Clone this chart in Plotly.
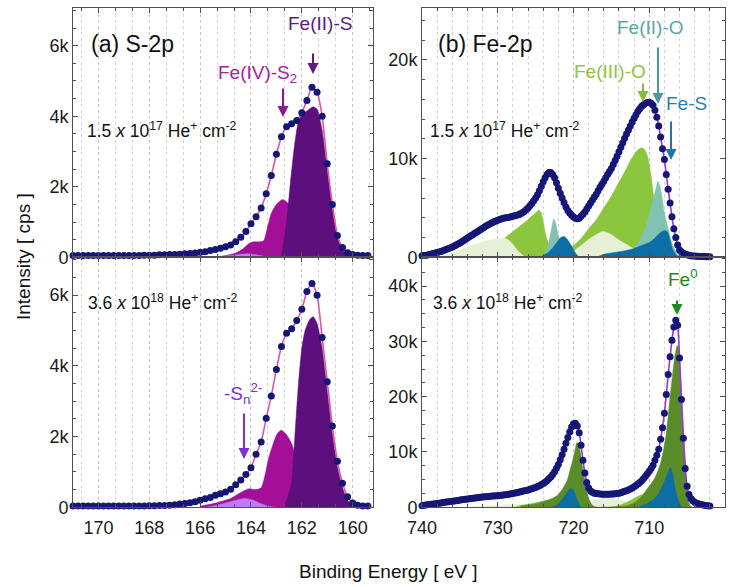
import plotly.graph_objects as go

W, H = 740, 587
FONT = "Liberation Sans, Arial, sans-serif"

# ---------------- S-2p : data ----------------
s_energy = [171.0, 170.8, 170.6, 170.4, 170.2, 170.0, 169.8, 169.6, 169.4, 169.2,
            169.0, 168.8, 168.6, 168.4, 168.2, 168.0, 167.8, 167.6, 167.4, 167.2,
            167.0, 166.8, 166.6, 166.4, 166.2, 166.0, 165.8, 165.6, 165.4, 165.2,
            165.0, 164.8, 164.6, 164.4, 164.2, 164.0, 163.8, 163.6, 163.4, 163.2,
            163.0, 162.8, 162.6, 162.4, 162.2, 162.0, 161.8, 161.6, 161.4, 161.2,
            161.0, 160.8, 160.6, 160.4, 160.2, 160.0, 159.8, 159.6, 159.4]
s_low = [0.05, 0.05, 0.05, 0.05, 0.05, 0.05, 0.05, 0.05, 0.05, 0.05,
         0.05, 0.05, 0.05, 0.05, 0.06, 0.06, 0.06, 0.07, 0.07, 0.08,
         0.08, 0.09, 0.10, 0.11, 0.12, 0.14, 0.16, 0.19, 0.22, 0.26,
         0.30, 0.35, 0.44, 0.57, 0.73, 0.95, 1.15, 1.40, 1.80, 2.32,
         2.92, 3.42, 3.70, 3.79, 3.88, 4.10, 4.45, 4.82, 4.68, 4.00,
         2.65, 1.50, 0.62, 0.28, 0.13, 0.08, 0.06, 0.05, 0.05]
s_high = [0.04, 0.04, 0.04, 0.04, 0.04, 0.04, 0.04, 0.04, 0.04, 0.04,
          0.04, 0.04, 0.04, 0.04, 0.04, 0.045, 0.045, 0.05, 0.05, 0.06,
          0.07, 0.09, 0.11, 0.13, 0.16, 0.20, 0.24, 0.28, 0.34, 0.38,
          0.43, 0.51, 0.64, 0.77, 0.93, 1.12, 1.50, 1.85, 2.52, 3.15,
          3.90, 4.55, 4.92, 5.05, 5.28, 5.60, 6.10, 6.33, 6.00, 4.80,
          3.55, 2.30, 1.30, 0.68, 0.30, 0.12, 0.06, 0.04, 0.04]

# S-2p components, low dose (energy, intensity in k)
s_low_fe4_e = [165.4, 165.0, 164.6, 164.3, 164.1, 163.9, 163.7, 163.5, 163.35, 163.2,
               163.0, 162.75, 162.5, 162.3, 162.1, 161.9, 161.7, 161.5, 161.2]
s_low_fe4_i = [0.0, 0.05, 0.12, 0.25, 0.38, 0.44, 0.44, 0.47, 0.85, 1.25,
               1.50, 1.64, 1.50, 1.20, 0.80, 0.48, 0.24, 0.10, 0.0]
s_low_fe2_e = [162.8, 162.6, 162.45, 162.3, 162.15, 162.0, 161.8, 161.55, 161.4, 161.2,
               161.0, 160.8, 160.6, 160.4, 160.2, 160.0]
s_low_fe2_i = [0.0, 1.0, 2.1, 3.1, 3.8, 4.05, 4.15, 4.27, 4.2, 3.6,
               2.5, 1.45, 0.6, 0.22, 0.06, 0.0]
s_low_sn_e = [165.6, 165.2, 164.8, 164.4, 164.1, 163.8, 163.5, 163.2]
s_low_sn_i = [0.0, 0.02, 0.05, 0.09, 0.10, 0.07, 0.03, 0.0]

# S-2p components, high dose
s_high_fe4_e = [166.0, 165.4, 164.8, 164.4, 164.1, 163.8, 163.6, 163.45, 163.3, 163.1,
                162.95, 162.8, 162.6, 162.4, 162.2, 162.0, 161.8, 161.6, 161.4, 161.2, 161.0]
s_high_fe4_i = [0.03, 0.12, 0.25, 0.42, 0.52, 0.50, 0.55, 0.90, 1.40, 1.85,
                2.10, 2.18, 2.05, 1.80, 1.35, 0.90, 0.55, 0.30, 0.12, 0.03, 0.0]
s_high_fe2_e = [162.7, 162.55, 162.4, 162.3, 162.22, 162.13, 162.0, 161.87, 161.7, 161.55,
                161.4, 161.2, 161.0, 160.8, 160.6, 160.4, 160.2, 160.0, 159.8]
s_high_fe2_i = [0.0, 0.3, 0.7, 1.7, 2.6, 3.5, 4.5, 5.0, 5.3, 5.39,
                5.2, 4.5, 3.3, 2.1, 1.15, 0.55, 0.2, 0.05, 0.0]
s_high_sn_e = [165.8, 165.4, 165.0, 164.6, 164.25, 163.9, 163.6, 163.3, 163.0]
s_high_sn_i = [0.0, 0.05, 0.12, 0.20, 0.25, 0.20, 0.10, 0.03, 0.0]

# ---------------- Fe-2p : data (energy eV, intensity k) ----------------
fe_low_pts = [
    (740.00, 0.15), (739.75, 0.17), (739.50, 0.20), (739.25, 0.24), (739.00, 0.28),
    (738.75, 0.33), (738.50, 0.38), (738.25, 0.43), (738.00, 0.48), (737.75, 0.54),
    (737.50, 0.60), (737.25, 0.67), (737.00, 0.75), (736.75, 0.82), (736.50, 0.90),
    (736.25, 0.97), (736.00, 1.05), (735.75, 1.15), (735.50, 1.25), (735.25, 1.35),
    (735.00, 1.45), (734.75, 1.57), (734.50, 1.70), (734.25, 1.82), (734.00, 1.95),
    (733.75, 2.07), (733.50, 2.20), (733.25, 2.32), (733.00, 2.45), (732.75, 2.57),
    (732.50, 2.70), (732.25, 2.82), (732.00, 2.95), (731.75, 3.07), (731.50, 3.20),
    (731.25, 3.30), (731.00, 3.40), (730.75, 3.50), (730.50, 3.60), (730.25, 3.68),
    (730.00, 3.75), (729.75, 3.83), (729.50, 3.90), (729.25, 3.95), (729.00, 4.00),
    (728.75, 4.02), (728.50, 4.05), (728.25, 4.10), (728.00, 4.15), (727.75, 4.20),
    (727.50, 4.25), (727.25, 4.32), (727.00, 4.40), (726.75, 4.52), (726.50, 4.65),
    (726.25, 4.82), (726.00, 5.00), (725.75, 5.22), (725.50, 5.45), (725.25, 5.72),
    (725.00, 6.00), (724.75, 6.35), (724.50, 6.75), (724.25, 7.20), (724.00, 7.65),
    (723.75, 8.05), (723.50, 8.40), (723.25, 8.58), (723.00, 8.60), (722.75, 8.40),
    (722.50, 8.05), (722.25, 7.55), (722.00, 7.00), (721.75, 6.50), (721.50, 6.00),
    (721.25, 5.55), (721.00, 5.10), (720.75, 4.75), (720.50, 4.50), (720.25, 4.25),
    (720.00, 4.08), (719.75, 3.95), (719.50, 3.90), (719.25, 3.95), (719.00, 4.15),
    (718.75, 4.35), (718.50, 4.60), (718.25, 4.90), (718.00, 5.20), (717.75, 5.50),
    (717.50, 5.80), (717.25, 6.10), (717.00, 6.40), (716.75, 6.75), (716.50, 7.10),
    (716.25, 7.40), (716.00, 7.70), (715.75, 8.05), (715.50, 8.40), (715.25, 8.70),
    (715.00, 9.00), (714.75, 9.40), (714.50, 9.80), (714.25, 10.25), (714.00, 10.70),
    (713.75, 11.15), (713.50, 11.60), (713.25, 12.05), (713.00, 12.50), (712.75, 12.90),
    (712.50, 13.30), (712.25, 13.70), (712.00, 14.10), (711.75, 14.45), (711.50, 14.80),
    (711.25, 15.05), (711.00, 15.30), (710.75, 15.45), (710.50, 15.60), (710.25, 15.68),
    (710.00, 15.70), (709.75, 15.62), (709.50, 15.40), (709.25, 14.90), (709.00, 14.20),
    (708.75, 13.30), (708.50, 12.20), (708.25, 11.00), (708.00, 9.90), (707.75, 8.40),
    (707.50, 6.90), (707.25, 5.50), (707.00, 4.10), (706.75, 2.90), (706.50, 2.00),
    (706.25, 1.25), (706.00, 0.75), (705.75, 0.55), (705.50, 0.42), (705.25, 0.32),
    (705.00, 0.25), (704.75, 0.20), (704.50, 0.16), (704.25, 0.14), (704.00, 0.12),
    (703.75, 0.11), (703.50, 0.10), (703.25, 0.09), (703.00, 0.08), (702.75, 0.07),
    (702.50, 0.06), (702.25, 0.06), (702.00, 0.05),
]
fe_high_pts = [
    (740.00, 0.30), (739.75, 0.35), (739.50, 0.40), (739.25, 0.45), (739.00, 0.50),
    (738.75, 0.55), (738.50, 0.60), (738.25, 0.65), (738.00, 0.70), (737.75, 0.75),
    (737.50, 0.80), (737.25, 0.85), (737.00, 0.90), (736.75, 0.95), (736.50, 1.00),
    (736.25, 1.05), (736.00, 1.10), (735.75, 1.15), (735.50, 1.20), (735.25, 1.25),
    (735.00, 1.30), (734.75, 1.35), (734.50, 1.40), (734.25, 1.45), (734.00, 1.50),
    (733.75, 1.55), (733.50, 1.60), (733.25, 1.65), (733.00, 1.70), (732.75, 1.74),
    (732.50, 1.78), (732.25, 1.82), (732.00, 1.85), (731.75, 1.89), (731.50, 1.93),
    (731.25, 1.96), (731.00, 2.00), (730.75, 2.03), (730.50, 2.05), (730.25, 2.08),
    (730.00, 2.10), (729.75, 2.14), (729.50, 2.18), (729.25, 2.21), (729.00, 2.25),
    (728.75, 2.31), (728.50, 2.37), (728.25, 2.44), (728.00, 2.50), (727.75, 2.57),
    (727.50, 2.65), (727.25, 2.72), (727.00, 2.80), (726.75, 2.88), (726.50, 2.97),
    (726.25, 3.06), (726.00, 3.15), (725.75, 3.25), (725.50, 3.35), (725.25, 3.47),
    (725.00, 3.60), (724.75, 3.75), (724.50, 3.90), (724.25, 4.10), (724.00, 4.30),
    (723.75, 4.55), (723.50, 4.80), (723.25, 5.15), (723.00, 5.50), (722.75, 5.95),
    (722.50, 6.45), (722.25, 7.05), (722.00, 7.75), (721.75, 8.60), (721.50, 9.50),
    (721.25, 10.50), (721.00, 11.60), (720.75, 12.60), (720.50, 13.60), (720.25, 14.50),
    (720.00, 15.10), (719.75, 15.20), (719.50, 14.70), (719.25, 13.50), (719.00, 11.20),
    (718.75, 8.50), (718.50, 6.20), (718.25, 4.50), (718.00, 3.50), (717.75, 2.95),
    (717.50, 2.70), (717.25, 2.55), (717.00, 2.48), (716.75, 2.43), (716.50, 2.40),
    (716.25, 2.37), (716.00, 2.35), (715.75, 2.35), (715.50, 2.35), (715.25, 2.37),
    (715.00, 2.40), (714.75, 2.42), (714.50, 2.45), (714.25, 2.50), (714.00, 2.55),
    (713.75, 2.65), (713.50, 2.75), (713.25, 2.88), (713.00, 3.00), (712.75, 3.15),
    (712.50, 3.30), (712.25, 3.50), (712.00, 3.70), (711.75, 3.95), (711.50, 4.20),
    (711.25, 4.50), (711.00, 4.80), (710.75, 5.20), (710.50, 5.60), (710.25, 6.05),
    (710.00, 6.50), (709.75, 7.00), (709.50, 7.60), (709.25, 8.50), (709.00, 9.40),
    (708.75, 10.50), (708.50, 12.30), (708.25, 14.40), (708.00, 17.00), (707.75, 20.40),
    (707.50, 24.00), (707.25, 27.20), (707.00, 30.20), (706.75, 32.60), (706.50, 33.80),
    (706.25, 32.90), (706.00, 27.00), (705.75, 19.50), (705.50, 12.50), (705.25, 7.00),
    (705.00, 3.80), (704.75, 2.30), (704.50, 1.60), (704.25, 1.20), (704.00, 0.90),
    (703.75, 0.75), (703.50, 0.62), (703.25, 0.52), (703.00, 0.45), (702.75, 0.38),
    (702.50, 0.33), (702.25, 0.28), (702.00, 0.25),
]

# Fe-2p components, low dose
fe_low_sat_e = [738.0, 737.0, 736.0, 735.0, 734.0, 733.0, 732.0, 731.0, 730.0, 729.2,
                728.5, 728.0, 727.5, 727.0, 726.5, 726.0, 721.0, 720.0, 719.0, 718.0,
                717.2, 716.4, 715.9, 715.0, 714.1, 712.8, 711.5, 710.0, 709.0]
fe_low_sat_i = [0.0, 0.2, 0.45, 0.75, 1.05, 1.3, 1.55, 1.75, 1.9, 1.95,
                1.7, 1.3, 0.8, 0.4, 0.1, 0.0, 0.0, 0.6, 1.2, 1.8,
                2.2, 2.55, 2.6, 2.3, 1.8, 1.2, 0.6, 0.15, 0.0]
fe_low_fe3_e = [731.0, 730.0, 729.0, 728.0, 727.0, 726.0, 725.5, 725.0, 724.6, 724.3,
                724.0, 723.7, 723.4, 723.0, 722.0, 721.0, 720.0, 719.0, 718.0, 717.0,
                716.0, 715.0, 714.0, 713.0, 712.5, 712.0, 711.5, 711.0, 710.6, 710.2,
                709.8, 709.4, 709.0, 708.6, 708.2, 707.8, 707.4]
fe_low_fe3_i = [0.5, 1.2, 2.0, 2.6, 3.2, 3.8, 4.2, 4.5, 4.8, 4.6,
                3.6, 2.4, 1.6, 1.1, 0.9, 1.0, 1.2, 1.9, 2.9, 3.8,
                5.0, 6.2, 7.6, 9.0, 9.8, 10.4, 10.9, 11.1, 10.9, 10.2,
                8.5, 6.0, 3.8, 2.2, 1.0, 0.4, 0.0]
fe_low_fe2o_e = [724.0, 723.5, 723.0, 722.6, 722.3, 722.0, 721.5, 721.0, 720.5, 720.0,
                 713.0, 712.0, 711.0, 710.2, 709.5, 709.1, 708.85, 708.6, 708.4, 708.0,
                 707.5, 706.9, 706.2, 705.8]
fe_low_fe2o_i = [0.0, 0.8, 2.5, 3.9, 3.3, 2.2, 1.2, 0.6, 0.2, 0.0,
                 0.0, 0.9, 2.1, 3.8, 5.8, 7.0, 7.7, 7.2, 6.5, 4.5,
                 2.9, 1.2, 0.3, 0.0]
fe_low_fes_e = [724.5, 723.5, 722.8, 722.2, 721.7, 721.2, 720.8, 720.3, 719.8, 719.2,
                717.0, 716.0, 714.5, 713.0, 712.0, 711.0, 710.0, 709.3, 708.8, 708.4,
                707.9, 707.6, 707.3, 706.9, 706.4, 706.0]
fe_low_fes_i = [0.0, 0.4, 0.9, 1.5, 2.0, 2.1, 1.8, 1.2, 0.5, 0.0,
                0.0, 0.3, 0.5, 0.7, 0.9, 1.2, 1.5, 1.9, 2.3, 2.6,
                2.7, 2.6, 1.9, 0.8, 0.2, 0.0]

# Fe-2p components, high dose
fe_high_sat_e = [734.0, 732.0, 730.0, 728.5, 727.0, 725.0, 723.0, 722.0, 720.0, 718.0,
                 716.0, 715.0, 714.0, 712.5, 711.0, 710.0]
fe_high_sat_i = [0.0, 0.2, 0.4, 0.5, 0.4, 0.2, 0.0, 0.0, 0.5, 1.1,
                 1.6, 1.6, 1.3, 0.7, 0.2, 0.0]
fe_high_fe3_e = [728.0, 727.0, 725.5, 724.0, 723.0, 722.0, 721.0, 720.0, 719.0, 718.0,
                 715.0, 714.0, 713.0, 712.0, 711.2, 710.5, 709.8, 709.0, 708.0, 707.0, 706.0]
fe_high_fe3_i = [0.0, 0.3, 0.7, 1.1, 1.3, 1.2, 0.8, 0.4, 0.1, 0.0,
                 0.0, 0.3, 0.9, 1.6, 2.2, 2.3, 2.1, 1.6, 0.9, 0.3, 0.0]
fe_high_fe0_e = [727.0, 725.0, 723.9, 723.0, 722.1, 721.5, 720.8, 720.4, 720.1, 719.8,
                 719.55, 719.3, 719.1, 718.8, 718.6, 718.4, 718.2, 717.9, 717.6, 717.2,
                 716.5, 713.0, 712.0, 711.5, 711.0, 710.4, 709.8, 709.3, 708.8, 708.5,
                 708.1, 707.8, 707.5, 707.3, 707.1, 706.9, 706.6, 706.3, 706.1, 705.9,
                 705.7, 705.5, 705.3, 705.1, 704.9, 704.6, 704.2]
fe_high_fe0_i = [0.3, 0.6, 1.1, 1.5, 2.2, 3.2, 5.0, 7.0, 8.5, 10.3,
                 11.7, 11.5, 10.0, 7.3, 5.6, 4.0, 2.6, 1.3, 0.5, 0.1,
                 0.0, 0.3, 0.8, 1.3, 2.0, 3.1, 4.2, 5.2, 6.8, 8.0,
                 10.5, 12.9, 16.5, 19.4, 21.8, 24.2, 27.5, 29.3, 28.5, 24.5,
                 19.5, 14.5, 10.0, 5.0, 1.5, 0.3, 0.0]
fe_high_fes_e = [723.0, 722.2, 721.5, 720.9, 720.4, 720.1, 719.8, 719.5, 719.2, 719.0,
                 711.5, 710.7, 709.9, 709.2, 708.8, 708.4, 708.0, 707.6, 707.2, 706.9,
                 706.6, 706.3, 706.0, 705.7]
fe_high_fes_i = [0.0, 0.4, 1.4, 2.6, 3.4, 3.3, 2.4, 1.3, 0.4, 0.0,
                 0.0, 0.4, 1.0, 1.7, 2.4, 3.4, 4.6, 6.0, 7.2, 6.0,
                 3.5, 1.8, 0.6, 0.0]

# ---------------- tick labels ----------------
s_xticks = [170, 168, 166, 164, 162, 160]
fe_xticks = [740, 730, 720, 710, 700]
s_yticks = [0, 2, 4, 6]
s_yticktext = ["0", "2k", "4k", "6k"]
fe_low_yticks = [0, 10, 20]
fe_low_yticktext = ["0", "10k", "20k"]
fe_high_yticks = [0, 10, 20, 30, 40]
fe_high_yticktext = ["0", "10k", "20k", "30k", "40k"]

# ---------------- colours ----------------
C_DOT = "#161677"
C_ENV_S = "#e2559e"
C_ENV_FE = "#9a35d8"
C_FE2S = "#5e0f7e"
C_FE4S2 = "#a30f98"
C_SN = "#bf7cf2"
C_SAT = "#e6f0d6"
C_FE3O = "#8cc63f"
C_FE2O = "#82c2b0"
C_FES = "#0d6ea6"
C_FE0 = "#5a8c2a"

fig = go.Figure()


def area(xs, ys, color, xa, ya):
    fig.add_trace(go.Scatter(x=xs, y=ys, mode="lines", fill="tozeroy",
                             fillcolor=color, line=dict(color=color, width=0.5, shape="spline", smoothing=0.6),
                             xaxis=xa, yaxis=ya, hoverinfo="skip", showlegend=False))


def spectrum(xs, ys, env_color, xa, ya, msize):
    fig.add_trace(go.Scatter(x=xs, y=ys, mode="lines", line=dict(color=env_color, width=1.6, shape="spline", smoothing=0.6),
                             xaxis=xa, yaxis=ya, hoverinfo="skip", showlegend=False))
    fig.add_trace(go.Scatter(x=xs, y=ys, mode="markers", marker=dict(color=C_DOT, size=msize, line=dict(width=0)),
                             xaxis=xa, yaxis=ya, cliponaxis=False, hoverinfo="skip", showlegend=False))


fe_low_e = [p[0] for p in fe_low_pts]
fe_low = [p[1] for p in fe_low_pts]
fe_high_e = [p[0] for p in fe_high_pts]
fe_high = [p[1] for p in fe_high_pts]

# panel (a) top : low dose  -> x, y
area(s_low_fe4_e, s_low_fe4_i, C_FE4S2, "x", "y")
area(s_low_fe2_e, s_low_fe2_i, C_FE2S, "x", "y")
area(s_low_sn_e, s_low_sn_i, C_SN, "x", "y")
spectrum(s_energy, s_low, C_ENV_S, "x", "y", 7)

# panel (a) bottom : high dose -> x3, y3
area(s_high_fe4_e, s_high_fe4_i, C_FE4S2, "x3", "y3")
area(s_high_fe2_e, s_high_fe2_i, C_FE2S, "x3", "y3")
area(s_high_sn_e, s_high_sn_i, C_SN, "x3", "y3")
spectrum(s_energy, s_high, C_ENV_S, "x3", "y3", 7)

# panel (b) top : low dose -> x2, y2
area(fe_low_fe3_e, fe_low_fe3_i, C_FE3O, "x2", "y2")
area(fe_low_sat_e, fe_low_sat_i, C_SAT, "x2", "y2")
area(fe_low_fe2o_e, fe_low_fe2o_i, C_FE2O, "x2", "y2")
area(fe_low_fes_e, fe_low_fes_i, C_FES, "x2", "y2")
spectrum(fe_low_e, fe_low, C_ENV_FE, "x2", "y2", 7)

# panel (b) bottom : high dose -> x4, y4
area(fe_high_sat_e, fe_high_sat_i, C_SAT, "x4", "y4")
area(fe_high_fe3_e, fe_high_fe3_i, C_FE3O, "x4", "y4")
area(fe_high_fe0_e, fe_high_fe0_i, C_FE0, "x4", "y4")
area(fe_high_fes_e, fe_high_fes_i, C_FES, "x4", "y4")
spectrum(fe_high_e, fe_high, C_ENV_FE, "x4", "y4", 7)

# ---------------- axes ----------------
XL = [73 / W, 373 / W]
XR = [422 / W, 725 / W]
YT = [(H - 257.3) / H, (H - 8) / H]
YB = [(H - 507.3) / H, (H - 257.3) / H]

tickfont = dict(family=FONT, size=18, color="#1a1a1a")
common = dict(showline=True, linecolor="#505050", linewidth=1, mirror="allticks",
              ticks="inside", ticklen=5, tickcolor="#505050", zeroline=False,
              tickfont=tickfont, automargin=False)


def xaxis(domain, rng, tickvals, minor_dtick, labels, anchor):
    d = dict(common)
    d.update(domain=domain, range=rng, tickmode="array", tickvals=tickvals,
             showticklabels=labels, anchor=anchor, ticklabelstandoff=4,
             showgrid=True, gridcolor="#c4c4c4", griddash="dot", gridwidth=1,
             minor=dict(tickmode="linear", tick0=tickvals[-1], dtick=minor_dtick, ticks="inside", ticklen=3,
                        tickcolor="#505050", showgrid=True, gridcolor="#d6d6d6", griddash="dot"))
    return d


def yaxis(domain, rng, tickvals, ticktext, minor_dtick, anchor):
    d = dict(common)
    d.update(domain=domain, range=rng, tickmode="array", tickvals=tickvals, ticktext=ticktext,
             showgrid=False, anchor=anchor,
             minor=dict(tickmode="linear", tick0=0, dtick=minor_dtick, ticks="inside", ticklen=3,
                        tickcolor="#505050", showgrid=False))
    return d


fig.update_layout(
    xaxis=xaxis(XL, [171.0, 159.2], s_xticks, 2 / 3, False, "y"),
    yaxis=yaxis(YT, [0, 7.07], s_yticks, s_yticktext, 0.5, "x"),
    xaxis3=xaxis(XL, [171.0, 159.2], s_xticks, 2 / 3, True, "y3"),
    yaxis3=yaxis(YB, [0, 7.07], s_yticks, s_yticktext, 0.5, "x3"),
    xaxis2=xaxis(XR, [740, 700], fe_xticks, 2, False, "y2"),
    yaxis2=yaxis(YT, [0, 25.26], fe_low_yticks, fe_low_yticktext, 2, "x2"),
    xaxis4=xaxis(XR, [740, 700], fe_xticks, 2, True, "y4"),
    yaxis4=yaxis(YB, [0, 45.2], fe_high_yticks, fe_high_yticktext, 2.5, "x4"),
)


# ---------------- annotations ----------------
def P(px, py):
    return px / W, 1 - py / H


anns = []


def text(px, py, s, size, color, xanchor="center"):
    x, y = P(px, py)
    anns.append(dict(x=x, y=y, xref="paper", yref="paper", text=s, showarrow=False,
                     xanchor=xanchor, yanchor="middle", font=dict(family=FONT, size=size, color=color)))


def arrow(px, tail_py, tip_py, color):
    x, y = P(px, tip_py)
    anns.append(dict(x=x, y=y, xref="paper", yref="paper", text="", showarrow=True,
                     ax=0, ay=-(tip_py - tail_py), arrowhead=2, arrowsize=1.1, arrowwidth=2,
                     arrowcolor=color))


text(89, 44, "(a) S-2p", 23, "#111111", "left")
text(436, 44, "(b) Fe-2p", 23, "#111111", "left")
text(320, 23, "Fe(II)-S", 19, "#5e1a7e")
arrow(313, 52, 74, "#5e1a7e")
text(257, 74, "Fe(IV)-S<sub>2</sub>", 19, "#a3239a")
arrow(283, 87, 117, "#8e1a8a")
text(85, 130, "1.5 <i>x</i> 10<sup>17</sup> He<sup>+</sup> cm<sup>-2</sup>", 17.5, "#111111", "left")
text(86, 302, "3.6 <i>x</i> 10<sup>18</sup> He<sup>+</sup> cm<sup>-2</sup>", 17.5, "#111111", "left")
text(428, 130, "1.5 <i>x</i> 10<sup>17</sup> He<sup>+</sup> cm<sup>-2</sup>", 17.5, "#111111", "left")
text(431, 302, "3.6 <i>x</i> 10<sup>18</sup> He<sup>+</sup> cm<sup>-2</sup>", 17.5, "#111111", "left")
text(243, 393, "-S<sub>n</sub><sup>2-</sup>", 19, "#7a30d6")
arrow(244, 412, 459, "#7a30d6")
text(650, 27, "Fe(II)-O", 19, "#5aa6a6")
arrow(658, 46, 104, "#4a9aa0")
text(610, 72, "Fe(III)-O", 19, "#8cc63f")
arrow(643, 82, 102, "#84be36")
text(686, 103, "Fe-S", 19, "#2a80b4")
arrow(671, 120, 160, "#1d78ac")
text(683, 278, "Fe<sup>0</sup>", 19, "#1f8a1f")
arrow(677, 299, 315, "#1f8a1f")

# axis titles
x, y = P(23, 257)
anns.append(dict(x=x, y=y, xref="paper", yref="paper", text="Intensity [ cps ]", showarrow=False,
                 xanchor="center", yanchor="middle",
                 textangle=-90, font=dict(family=FONT, size=19, color="#111111")))
x, y = P(388, 571)
anns.append(dict(x=x, y=y, xref="paper", yref="paper", text="Binding Energy [ eV ]", showarrow=False,
                 xanchor="center", yanchor="middle",
                 font=dict(family=FONT, size=19, color="#111111")))

fig.update_layout(annotations=anns, width=W, height=H,
                  margin=dict(l=0, r=0, t=0, b=0, autoexpand=False),
                  paper_bgcolor="white", plot_bgcolor="white",
                  showlegend=False, font=dict(family=FONT))

fig.write_html("out.html")
